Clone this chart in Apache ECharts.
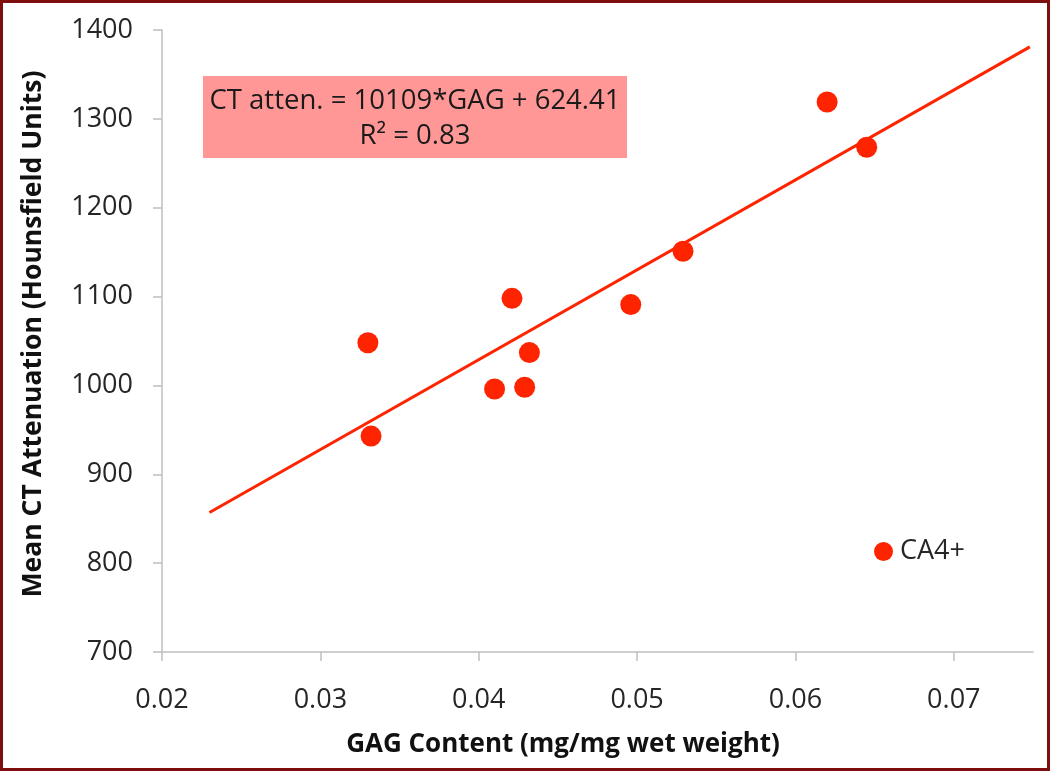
<!DOCTYPE html>
<html>
<head>
<meta charset="utf-8">
<script src="https://cdn.jsdelivr.net/npm/echarts@6/dist/echarts.min.js"></script>
<style>
html,body{margin:0;padding:0;background:#fff;}
#c{width:1050px;height:771px;}
</style>
</head>
<body>
<div id="c"></div>
<script>
// Data
const gagX = [0.0330, 0.0332, 0.0410, 0.0421, 0.0429, 0.0432, 0.0496, 0.0529, 0.0620, 0.0645];
const ctY  = [1048, 943, 996, 1098, 998, 1037, 1091, 1151, 1319, 1268];
const trendX = [0.0230, 0.0748];
const trendY = [857, 1381];
const xTicks = [0.02, 0.03, 0.04, 0.05, 0.06, 0.07];
const yTicks = [700, 800, 900, 1000, 1100, 1200, 1300, 1400];
const seriesName = 'CA4+';
const eqLine1 = 'CT atten. = 10109*GAG + 624.41';
const eqLine2 = 'R\u00B2 = 0.83';
const xTitle = 'GAG Content (mg/mg wet weight)';
const yTitle = 'Mean CT Attenuation (Hounsfield Units)';

const FONT = '"Open Sans", sans-serif';
const RED = '#ff2400';
const AXC = '#bfbfbf';

const chart = echarts.init(document.getElementById('c'), null, {renderer: 'canvas'});
chart.setOption({
  animation: false,
  backgroundColor: '#fff',
  grid: {left: 162, right: 17, top: 30, bottom: 119, containLabel: false},
  xAxis: {
    type: 'value', min: 0.02, max: 0.075, interval: 0.01,
    splitLine: {show: false},
    axisLine: {show: true, lineStyle: {color: AXC, width: 1.5}},
    axisTick: {show: true, length: 9, lineStyle: {color: AXC, width: 1.5}, customValues: xTicks},
    axisLabel: {customValues: xTicks, margin: 35, fontSize: 27, fontFamily: FONT, color: '#262626',
      formatter: v => v.toFixed(2)}
  },
  yAxis: {
    type: 'value', min: 700, max: 1400, interval: 100,
    splitLine: {show: false},
    axisLine: {show: true, lineStyle: {color: AXC, width: 1.5}},
    axisTick: {show: true, length: 9, lineStyle: {color: AXC, width: 1.5}, customValues: yTicks},
    axisLabel: {customValues: yTicks, margin: 29, fontSize: 27, fontFamily: FONT, color: '#262626',
      formatter: v => String(v)}
  },
  legend: {
    data: [seriesName], left: 869, top: 533, icon: 'circle', itemWidth: 19, itemHeight: 19, itemGap: 0,
    textStyle: {fontSize: 27, fontFamily: FONT, color: '#262626', padding: [0,0,0,2]}
  },
  series: [
    {
      name: 'trend', type: 'line', data: trendX.map((x, i) => [x, trendY[i]]),
      symbol: 'none', lineStyle: {color: RED, width: 3}, z: 2, silent: true
    },
    {
      name: seriesName, type: 'scatter', data: gagX.map((x, i) => [x, ctY[i]]),
      symbol: 'circle', symbolSize: 21, itemStyle: {color: RED, opacity: 1}, z: 3
    }
  ],
  graphic: [
    {type: 'rect', shape: {x: 203, y: 76, width: 424, height: 82}, style: {fill: '#ff9797'}, z: 10},
    {type: 'text', x: 415, y: 101, style: {text: eqLine1, fontSize: 27.5, fontFamily: FONT, fill: '#1a1a1a', align: 'center', verticalAlign: 'middle'}, z: 11},
    {type: 'text', x: 415, y: 136, style: {text: eqLine2, fontSize: 27.5, fontFamily: FONT, fill: '#1a1a1a', align: 'center', verticalAlign: 'middle'}, z: 11},
    {type: 'text', x: 563, y: 745, style: {text: xTitle, fontSize: 26, fontWeight: 'bold', fontFamily: FONT, fill: '#111', align: 'center', verticalAlign: 'middle'}, z: 11},
    {type: 'text', x: 33, y: 334, rotation: Math.PI / 2, style: {text: yTitle, fontSize: 26.5, fontWeight: 'bold', fontFamily: FONT, fill: '#111', align: 'center', verticalAlign: 'middle'}, z: 11},
    {type: 'rect', shape: {x: 1.5, y: 1.5, width: 1047, height: 768}, style: {fill: 'none', stroke: '#7f0f0f', lineWidth: 3}, z: 20}
  ]
});
</script>
</body>
</html>
